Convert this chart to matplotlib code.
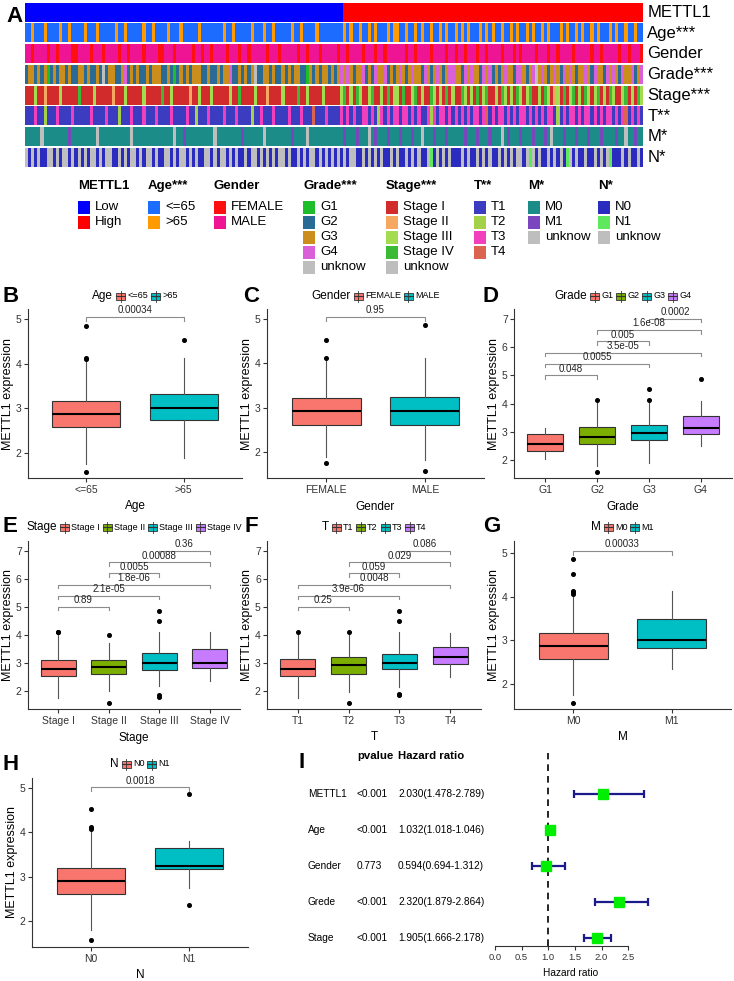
import numpy as np
import matplotlib
matplotlib.use("Agg")
import matplotlib.pyplot as plt
from matplotlib.patches import Rectangle
from matplotlib.colors import to_rgb

plt.rcParams['font.family'] = ['Liberation Sans', 'DejaVu Sans']

W, H = 734, 981

# ---------------- panel A: annotation heatmap ----------------
hm_labels = ["METTL1", "Age***", "Gender", "Grade***", "Stage***", "T**", "M*", "N*"]

mettl1_levels = ["Low", "High"]
mettl1_counts = [103, 97]

age_codes = ("yyoyyyoyyyyoyyoyyyyo" "yyyoyyyyyoyyoyyyyyoy" "yoyyyyoyyyoyyyyyoyyy"
             "yyyyoyyoyyyyyoyyyoyy" "oyyyyyoyyoyyyyoyyyyy" "yyyoyoyyoyyoyoyyyoyo"
             "oyyoyyoyoyyoyyoyoyyo" "yoyoyyyoyoyoyyoyyoyo" "yyoyoyyoyoyyyoyoyyoy"
             "oyyoyoyyyoyoyyoyyoyy")
gender_codes = ("mmfmmmmfmmfmmmmffmmm" "mfmmmfmmmmfmmfmmmmfm" "mmmffmmmfmmmmmfmmfmm"
                "fmmmmfmmmfmmfmmmmmfm" "mmfmmmmmfmmfmmmfmmmm" "mfmmfmmmmfmmmfmmfmmm"
                "mmmfmmfmmmmfmmmmfmmf" "mmfmmmfmmfmmmmfmmmfm" "fmmmmfmmmfmmfmmmmfmm"
                "mmmfmmfmmmmmfmmfmmmf")
grade_codes = ("23323231232332322332" "32232u23322342323223" "23332232123232333223"
               "22323342232323u22332" "32232323322132323323" "23434323342324334232"
               "34323433243234323443" "32434332434232343324" "43234u34323432434323"
               "34324332434324334234")
stage_codes = ("aaacaabaaaacaaaaadaa" "aacaaaaabaaacaaaaaca" "aaaadaacaaaaabaacaaa"
               "caaaaacaadaaaacaaaba" "aaacaaaadaacaaaacaaa" "aacdacadcaacdaacadac"
               "cadaacdacaadcacadaca" "adcacadacdaacadcacad" "cacdaacadcabcadacdac"
               "adcacdacadcaacdacadc")
t_codes = ("11131121113111131111" "13111131112111311131" "11311113111131121113"
           "11113111311112113111" "31111311131114111311" "11313131133131231313"
           "31331313113231331313" "13131331341313313131" "33131313133121313313"
           "13313131331313413131")
m_codes = ("00000u00000000100000" "000u0000000000u00000" "00000000u00100000000"
           "0u000000001000000u00" "00000010000u00000000" "00010001000u01000100"
           "01000100u00010001000" "00100010001000u01000" "1000100010u000100010"
           "00100010000100u00100")
n_codes = ("u0u0u00uu0u0uu0u0u0u" "0uu0u0uu00u0u0uu0u0u" "u0u00uu0u0uu0u0u00uu"
           "0u0uu0u0u00u0uu0u0u0" "u0uu0u00u0u0uu0u0u0u" "0u0u0uu00u0u0u0u00u0"
           "u00u0u0u00u10u0u0u00" "0u0u00u0u0u00u0u0u0u" "u0u1u0u00u0u0u01u0u0"
           "0u00u0u0u1000u0u00u0")

# legend entries (title, labels, colours, code letters)
ann_legend = [
    ("METTL1", ["Low", "High"], ["#0000FF", "#FF0000"], "LH"),
    ("Age***", ["<=65", ">65"], ["#1C6DFF", "#FF9A00"], "yo"),
    ("Gender", ["FEMALE", "MALE"], ["#FF1010", "#EE1493"], "fm"),
    ("Grade***", ["G1", "G2", "G3", "G4", "unknow"],
     ["#1EBE2A", "#2A6B95", "#CB8E1C", "#DA60DA", "#BEBEBE"], "1234u"),
    ("Stage***", ["Stage I", "Stage II", "Stage III", "Stage IV", "unknow"],
     ["#D12B2B", "#F6A860", "#A4DC50", "#3BBA35", "#BEBEBE"], "abcdu"),
    ("T**", ["T1", "T2", "T3", "T4"], ["#3C3CC0", "#A5D14A", "#F23FBD", "#DA6450"], "1234"),
    ("M*", ["M0", "M1", "unknow"], ["#1C8C88", "#7B45BF", "#BEBEBE"], "01u"),
    ("N*", ["N0", "N1", "unknow"], ["#2B2BC0", "#5EE85E", "#BEBEBE"], "01u"),
]
ann_legend_x = [78, 148, 214, 303, 386, 474, 528, 598]

# ---------------- panels B-H: boxplots (lo, q1, med, q3, hi) ----------------
age_groups = ["<=65", ">65"]
age_stats = [(1.75, 2.57, 2.87, 3.16, 4.07), (1.88, 2.73, 3.01, 3.31, 4.12)]
age_fliers = [[1.58, 4.10, 4.12, 4.85], [4.52]]
age_tests = [(1, 2, 5.05, "0.00034")]

gender_groups = ["FEMALE", "MALE"]
gender_stats = [(1.90, 2.62, 2.92, 3.21, 4.07), (1.82, 2.62, 2.92, 3.24, 4.12)]
gender_fliers = [[1.75, 4.12, 4.52], [1.57, 4.85]]
gender_tests = [(1, 2, 5.05, "0.95")]

grade_groups = ["G1", "G2", "G3", "G4"]
grade_stats = [(2.02, 2.33, 2.58, 2.91, 3.14), (1.80, 2.55, 2.80, 3.17, 4.08),
               (1.90, 2.69, 2.96, 3.24, 4.10), (2.50, 2.91, 3.12, 3.55, 4.10)]
grade_fliers = [[], [1.57, 4.12], [4.12, 4.52], [4.86]]
grade_tests = [(1, 2, 5.0, "0.048"), (1, 3, 5.4, "0.0055"), (1, 4, 5.8, "3.5e-05"),
               (2, 3, 6.2, "0.005"), (2, 4, 6.6, "1.6e-08"), (3, 4, 7.0, "0.0002")]

stage_groups = ["Stage I", "Stage II", "Stage III", "Stage IV"]
stage_stats = [(1.74, 2.54, 2.78, 3.10, 4.06), (2.00, 2.60, 2.85, 3.10, 3.70),
               (2.18, 2.75, 3.01, 3.35, 4.12), (2.36, 2.82, 3.02, 3.49, 4.12)]
stage_fliers = [[4.10, 4.12], [1.56, 4.00], [1.79, 1.86, 4.51, 4.86], []]
stage_tests = [(1, 2, 5.0, "0.89"), (1, 3, 5.4, "2.1e-05"), (1, 4, 5.8, "1.8e-06"),
               (2, 3, 6.2, "0.0055"), (2, 4, 6.6, "0.00088"), (3, 4, 7.0, "0.36")]

t_groups = ["T1", "T2", "T3", "T4"]
t_stats = [(1.75, 2.53, 2.78, 3.15, 4.08), (1.98, 2.60, 2.92, 3.20, 4.08),
           (2.15, 2.78, 3.00, 3.33, 4.12), (2.52, 2.97, 3.20, 3.57, 4.08)]
t_fliers = [[4.12], [1.58, 4.12], [1.85, 1.90, 4.52, 4.85], []]
t_tests = [(1, 2, 5.0, "0.25"), (1, 3, 5.4, "3.9e-06"), (1, 4, 5.8, "0.0048"),
           (2, 3, 6.2, "0.059"), (2, 4, 6.6, "0.029"), (3, 4, 7.0, "0.086")]

m_groups = ["M0", "M1"]
m_stats = [(1.75, 2.58, 2.88, 3.17, 4.02), (2.35, 2.83, 3.01, 3.48, 4.12)]
m_fliers = [[1.57, 4.05, 4.10, 4.12, 4.52, 4.85], []]
m_tests = [(1, 2, 5.05, "0.00033")]

n_groups = ["N0", "N1"]
n_stats = [(1.80, 2.60, 2.90, 3.20, 4.00), (2.75, 3.17, 3.23, 3.64, 3.80)]
n_fliers = [[1.57, 4.08, 4.12, 4.52], [2.35, 4.87]]
n_tests = [(1, 2, 5.02, "0.0018")]

two_cols = ["#F8766D", "#00BFC4"]
four_cols = ["#F8766D", "#7CAE00", "#00BFC4", "#C77CFF"]

# ---------------- panel I: forest plot ----------------
cox_vars = ["METTL1", "Age", "Gender", "Grede", "Stage"]
cox_p = ["<0.001", "<0.001", "0.773", "<0.001", "<0.001"]
cox_hr_text = ["2.030(1.478-2.789)", "1.032(1.018-1.046)", "0.594(0.694-1.312)",
               "2.320(1.879-2.864)", "1.905(1.666-2.178)"]
cox_hr = [2.030, 1.032, 0.954, 2.320, 1.905]
cox_lo = [1.478, 1.018, 0.694, 1.879, 1.666]
cox_hi = [2.789, 1.046, 1.312, 2.864, 2.178]
forest_ticks = [0.0, 0.5, 1.0, 1.5, 2.0, 2.5]


def px_rect(x0, y0, x1, y1):
    return [x0 / W, 1 - y1 / H, (x1 - x0) / W, (y1 - y0) / H]


fig = plt.figure(figsize=(W / 100, H / 100), dpi=100)
ov = fig.add_axes([0, 0, 1, 1])
ov.set_xlim(0, W)
ov.set_ylim(H, 0)
ov.axis('off')
renderer = fig.canvas.get_renderer()

# heatmap
hm = fig.add_axes(px_rect(25, 2, 643, 168))
code_rows = ["".join(l * c for l, c in zip("LH", mettl1_counts)),
             age_codes, gender_codes, grade_codes, stage_codes, t_codes, m_codes, n_codes]
for i, codes in enumerate(code_rows):
    _, _, cols, letters = ann_legend[i]
    cmap = {k: to_rgb(c) for k, c in zip(letters, cols)}
    rgb = np.array([[cmap[ch] for ch in codes]])
    hm.imshow(rgb, extent=(0, 1, i + 0.95, i + 0.05), aspect='auto', interpolation='nearest')
    hm.text(1.007, i + 0.5, hm_labels[i], fontsize=12, va='center', ha='left',
            transform=hm.transData, clip_on=False)
hm.set_xlim(0, 1)
hm.set_ylim(8, 0)
hm.axis('off')

# heatmap legend
for (title, labels, cols, _), x in zip(ann_legend, ann_legend_x):
    ov.text(x, 186, title, fontsize=9.5, fontweight='bold', va='center', ha='left')
    for k, (lab, c) in enumerate(zip(labels, cols)):
        y = 207 + 15 * k
        ov.add_patch(Rectangle((x, y - 6.5), 12, 13, facecolor=c, edgecolor='none'))
        ov.text(x + 17, y, lab, fontsize=9.5, va='center', ha='left')


def box_legend(title, labels, cols, cx, cy):
    t = ov.text(0, cy, title, fontsize=8.5, va='center', ha='left')
    tw = t.get_window_extent(renderer).width
    lts = [ov.text(0, cy, l, fontsize=6.5, va='center', ha='left') for l in labels]
    lws = [lt.get_window_extent(renderer).width for lt in lts]
    kw = 9
    total = tw + 3 + sum(kw + 2 + w + 3 for w in lws) - 3
    x = cx - total / 2
    t.set_x(x)
    x += tw + 3
    for lt, w, c in zip(lts, lws, cols):
        ov.plot([x + kw / 2, x + kw / 2], [cy - 5.5, cy + 5.5], color='#333333', lw=0.6)
        ov.add_patch(Rectangle((x, cy - 3.5), kw, 7, facecolor=c, edgecolor='#333333', lw=0.6))
        ov.plot([x, x + kw], [cy, cy], color='#333333', lw=0.8)
        lt.set_x(x + kw + 2)
        x += kw + 2 + w + 3


def box_panel(rect, ylim, yticks, groups, stats, fliers, cols, title, xlabel, tests, bh, leg_y):
    ax = fig.add_axes(px_rect(*rect))
    n = len(groups)
    bstats = [dict(whislo=s[0], q1=s[1], med=s[2], q3=s[3], whishi=s[4], fliers=f)
              for s, f in zip(stats, fliers)]
    parts = ax.bxp(bstats, positions=list(range(1, n + 1)), widths=0.7, patch_artist=True,
                   showcaps=False,
                   boxprops=dict(edgecolor='#333333', linewidth=0.8),
                   medianprops=dict(color='black', linewidth=1.5),
                   whiskerprops=dict(color='#555555', linewidth=0.8),
                   flierprops=dict(marker='o', markersize=2.6, markerfacecolor='black',
                                   markeredgecolor='black'))
    for p, c in zip(parts['boxes'], cols):
        p.set_facecolor(c)
    for i, j, y, lab in tests:
        ax.plot([i, i, j, j], [y - bh, y, y, y - bh], color='#8C8C8C', lw=0.8)
        ax.text((i + j) / 2, y + 0.01 * (ylim[1] - ylim[0]), lab, ha='center', va='bottom',
                fontsize=7, color='#222222')
    ax.set_xlim(0.4, n + 0.6)
    ax.set_ylim(*ylim)
    ax.set_yticks(yticks)
    ax.set_xticks(list(range(1, n + 1)))
    ax.set_xticklabels(groups)
    for s in ['top', 'right']:
        ax.spines[s].set_visible(False)
    for s in ['left', 'bottom']:
        ax.spines[s].set_color('#333333')
        ax.spines[s].set_linewidth(0.8)
    ax.tick_params(labelsize=7.5, colors='#333333', length=3, width=0.8, pad=2)
    ax.tick_params(axis='y', pad=1.5)
    ax.set_ylabel("METTL1 expression", fontsize=9, labelpad=1)
    ax.set_xlabel(xlabel, fontsize=8.5, labelpad=4)
    box_legend(title, groups, cols, (rect[0] + rect[2]) / 2, leg_y)
    return ax


box_panel((28, 309, 242, 478), (1.44, 5.22), [2, 3, 4, 5], age_groups, age_stats, age_fliers,
          two_cols, "Age", "Age", age_tests, 0.09, 296)
box_panel((267, 309, 484, 478), (1.42, 5.22), [2, 3, 4, 5], gender_groups, gender_stats,
          gender_fliers, two_cols, "Gender", "Gender", gender_tests, 0.09, 296)
box_panel((514, 309, 732, 478), (1.36, 7.35), [2, 3, 4, 5, 6, 7], grade_groups, grade_stats,
          grade_fliers, four_cols, "Grade", "Grade", grade_tests, 0.12, 296)
box_panel((28, 541, 240, 709), (1.36, 7.36), [2, 3, 4, 5, 6, 7], stage_groups, stage_stats,
          stage_fliers, four_cols, "Stage", "Stage", stage_tests, 0.12, 527)
box_panel((267, 541, 481, 709), (1.36, 7.36), [2, 3, 4, 5, 6, 7], t_groups, t_stats,
          t_fliers, four_cols, "T", "T", t_tests, 0.12, 527)
box_panel((514, 541, 731, 709), (1.43, 5.27), [2, 3, 4, 5], m_groups, m_stats, m_fliers,
          two_cols, "M", "M", m_tests, 0.09, 527)
box_panel((32, 778, 248, 947), (1.41, 5.23), [2, 3, 4, 5], n_groups, n_stats, n_fliers,
          two_cols, "N", "N", n_tests, 0.09, 764)

# forest plot
fa = fig.add_axes(px_rect(495, 746, 666, 946))
ypos = np.arange(len(cox_vars), 0, -1)
hr = np.array(cox_hr)
fa.vlines(1, 0.78, 6.14, colors='black', linestyles=(0, (4, 3)), lw=1.2)
fa.errorbar(hr, ypos, xerr=[hr - np.array(cox_lo), np.array(cox_hi) - hr], fmt='none',
            ecolor='#1A1A8C', elinewidth=1.6, capsize=2.8, capthick=1.6)
fa.plot(hr, ypos, 's', color='#00EE00', markersize=7.5, zorder=5)
for y, v, p, t in zip(ypos, cox_vars, cox_p, cox_hr_text):
    fa.text(-3.51, y, v, fontsize=7.3, va='center', ha='left', clip_on=False)
    fa.text(-2.59, y, p, fontsize=7.3, va='center', ha='left', clip_on=False)
    fa.text(-1.82, y, t, fontsize=7.3, va='center', ha='left', clip_on=False)
fa.text(-2.59, 6.06, "pvalue", fontsize=8.2, fontweight='bold', va='center', ha='left')
fa.text(-1.82, 6.06, "Hazard ratio", fontsize=8.2, fontweight='bold', va='center', ha='left')
fa.set_xlim(0, 171 / 53.3)
fa.set_ylim(0.78, 6.33)
for s in ['top', 'right', 'left']:
    fa.spines[s].set_visible(False)
fa.spines['bottom'].set_bounds(0, 2.5)
fa.spines['bottom'].set_color('#333333')
fa.set_xticks(forest_ticks)
fa.set_xticklabels([f"{t:.1f}" for t in forest_ticks])
fa.set_yticks([])
fa.tick_params(axis='x', labelsize=6.8, length=3, width=0.8, colors='#333333', pad=2)
fa.set_xlabel("Hazard ratio", fontsize=7.3)
fa.xaxis.set_label_coords(0.44, -0.11)

# panel letters
for lab, x, y in [("A", 6, 16), ("B", 3, 296), ("C", 243, 296), ("D", 482, 296),
                  ("E", 3, 527), ("F", 244, 527), ("G", 483, 527), ("H", 3, 764), ("I", 298, 762)]:
    ov.text(x, y, lab, fontsize=16, fontweight='bold', va='center', ha='left')

fig.savefig("out.png", dpi=100)
